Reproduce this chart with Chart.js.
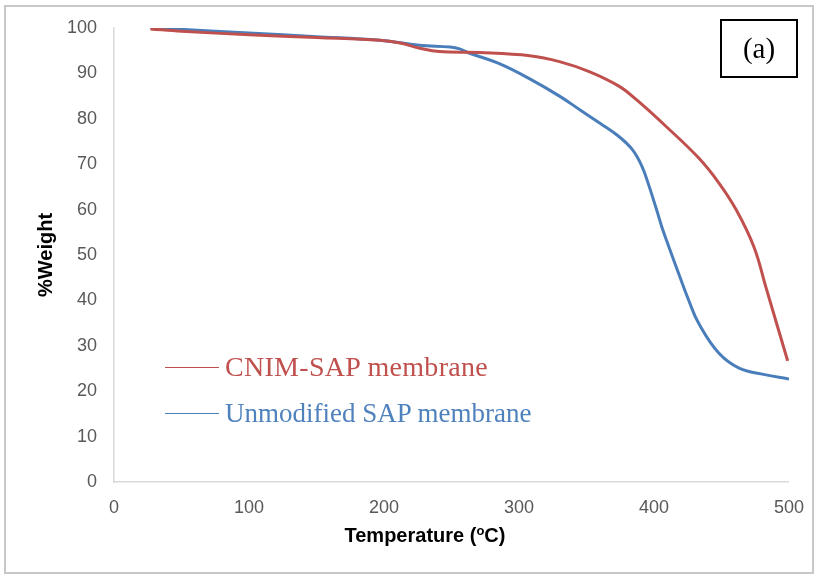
<!DOCTYPE html>
<html>
<head>
<meta charset="utf-8">
<script src="https://cdn.jsdelivr.net/npm/chart.js@4.4.1/dist/chart.umd.min.js"></script>
<style>
  html, body { margin: 0; padding: 0; background: #ffffff; }
  #wrap { position: relative; width: 819px; height: 575px; overflow: hidden; background: #fff; }
  #frame { position: absolute; left: 4px; top: 5px; width: 810px; height: 569px; box-sizing: border-box; border: 2px solid #c8c8c8; }
  canvas { position: absolute; left: 0; top: 0; }
  .leg { position: absolute; font-family: "Liberation Serif", "Times New Roman", serif; font-size: 27px; line-height: 30px; white-space: nowrap; }
  .leg .ln { position: absolute; left: -60px; top: 15px; width: 54px; height: 0; border-top: 1.5px solid; }
  #tag { position: absolute; left: 720px; top: 19px; width: 78px; height: 59px; box-sizing: border-box; border: 2px solid #000; font-family: "Liberation Serif", "Times New Roman", serif; font-size: 29px; text-align: center; line-height: 55px; color: #000; }
  #xtitle { position: absolute; left: 300px; width: 250px; top: 524px; text-align: center; font-family: "Liberation Sans", Arial, sans-serif; font-weight: bold; font-size: 20px; color: #000; white-space: nowrap; }
  #xtitle sup { font-size: 13px; vertical-align: 7px; line-height: 0; }
</style>
</head>
<body>
<div id="wrap">
  <canvas id="c" width="819" height="575"></canvas>
  <div id="frame"></div>
  <div id="tag">(a)</div>
  <div class="leg" style="left:225px; top:352px; color:#c0504d; font-size:28px; letter-spacing:0.3px;"><span class="ln" style="border-color:#c0504d;"></span>CNIM-SAP membrane</div>
  <div class="leg" style="left:225px; top:398px; color:#4f81bd;"><span class="ln" style="border-color:#4f81bd;"></span>Unmodified SAP membrane</div>
  <div id="xtitle">Temperature (<sup>o</sup>C)</div>
</div>
<script>
// ---- data ----
const cnimTemp   = [27, 50, 100, 150, 197, 212, 226, 241, 271, 308, 330, 352, 374, 387, 409, 433, 448, 461, 474, 483, 499];
const cnimWeight = [99.8, 99.3, 98.5, 97.9, 97.3, 96.7, 95.6, 94.8, 94.6, 93.9, 92.6, 90.4, 87.2, 84.2, 78.3, 71.4, 65.9, 59.9, 51.8, 42.8, 26.7];

const unmodTemp   = [27, 50, 100, 150, 197, 226, 249, 256, 263, 285, 308, 330, 345, 360, 374, 384, 391, 396, 402, 406, 411, 419, 426, 433, 448, 463, 483, 500];
const unmodWeight = [100, 99.7, 98.9, 98.1, 97.3, 96.2, 95.8, 95.4, 94.5, 92.2, 88.8, 85.0, 82.0, 79.0, 76.1, 73.2, 69.6, 65.5, 59.9, 56.0, 51.8, 45.3, 39.8, 35.0, 28.4, 25.1, 23.6, 22.7];

const xTicks = [0, 100, 200, 300, 400, 500];
const yTicks = [0, 10, 20, 30, 40, 50, 60, 70, 80, 90, 100];
const seriesNames = ["CNIM-SAP membrane", "Unmodified SAP membrane"];

function pts(xs, ys) { return xs.map((x, i) => ({ x: x, y: ys[i] })); }

const tickFont = { family: "Liberation Sans, Arial, sans-serif", size: 18 };

new Chart(document.getElementById('c'), {
  type: 'scatter',
  data: {
    datasets: [
      { label: seriesNames[0], data: pts(cnimTemp, cnimWeight), showLine: true, borderColor: '#c0504d', borderWidth: 3, pointRadius: 0, tension: 0.4, fill: false },
      { label: seriesNames[1], data: pts(unmodTemp, unmodWeight), showLine: true, borderColor: '#4a7ebb', borderWidth: 3, pointRadius: 0, tension: 0.4, fill: false }
    ]
  },
  options: {
    responsive: false,
    animation: false,
    devicePixelRatio: 1,
    layout: { padding: { left: 0, right: 29, top: 28, bottom: 0 } },
    plugins: { legend: { display: false }, tooltip: { enabled: false } },
    scales: {
      x: {
        type: 'linear', min: 0, max: 500,
        afterBuildTicks: s => { s.ticks = xTicks.map(v => ({ value: v })); },
        afterFit: s => { s.height = 93; },
        grid: { display: false, drawTicks: false },
        border: { display: true, color: '#d9d9d9', width: 1.5 },
        ticks: { padding: 15, color: '#595959', font: tickFont, maxRotation: 0 }
      },
      y: {
        type: 'linear', min: 0, max: 100,
        afterBuildTicks: s => { s.ticks = yTicks.map(v => ({ value: v })); },
        afterFit: s => { s.width = 114; },
        grid: { display: false, drawTicks: false },
        border: { display: true, color: '#d9d9d9', width: 1.5 },
        ticks: { padding: 17, color: '#595959', font: tickFont },
        title: { display: true, text: '%Weight', color: '#000', font: { family: "Liberation Sans, Arial, sans-serif", size: 20, weight: 'bold' }, padding: { top: 34, bottom: 0 } }
      }
    }
  }
});
</script>
</body>
</html>
